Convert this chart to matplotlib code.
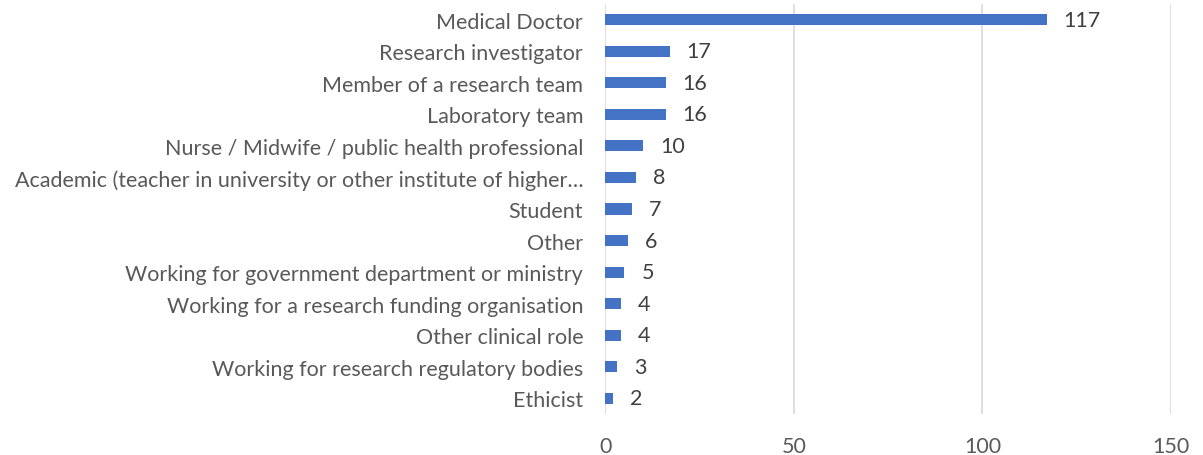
import matplotlib
matplotlib.use("Agg")
import matplotlib.pyplot as plt

categories = [
    "Medical Doctor",
    "Research investigator",
    "Member of a research team",
    "Laboratory team",
    "Nurse / Midwife / public health professional",
    "Academic (teacher in university or other institute of higher\u2026",
    "Student",
    "Other",
    "Working for government department or ministry",
    "Working for a research funding organisation",
    "Other clinical role",
    "Working for research regulatory bodies",
    "Ethicist",
]
values = [117, 17, 16, 16, 10, 8, 7, 6, 5, 4, 4, 3, 2]
xticks = [0, 50, 100, 150]

plt.rcParams['font.family'] = ['Lato', 'DejaVu Sans']
FS = 15.5

fig = plt.figure(figsize=(12.03, 4.56), dpi=100)
ax = fig.add_axes([0.5033, 0.09, 0.4701, 0.899])

ypos = list(range(len(categories)))
ax.barh(ypos, values, height=0.35, color="#4472C4", zorder=3)
ax.set_ylim(len(categories) - 0.5, -0.5)
ax.set_xlim(0, 150)
ax.set_xticks(xticks)
ax.set_yticks(ypos)
ax.set_yticklabels(categories, fontsize=FS, color="#595959")
ax.tick_params(axis='x', labelsize=FS, labelcolor="#595959", length=0, pad=16)
ax.tick_params(axis='y', length=0, pad=16)
ax.grid(axis='x', color="#D9D9D9", linewidth=1.2, zorder=0)
for s in ax.spines.values():
    s.set_visible(False)

for y, v in zip(ypos, values):
    ax.annotate(str(v), (v, y), xytext=(17, 0), textcoords="offset pixels",
                ha="left", va="center", fontsize=FS, color="#404040")

fig.savefig("out.png", dpi=100, facecolor="white")
